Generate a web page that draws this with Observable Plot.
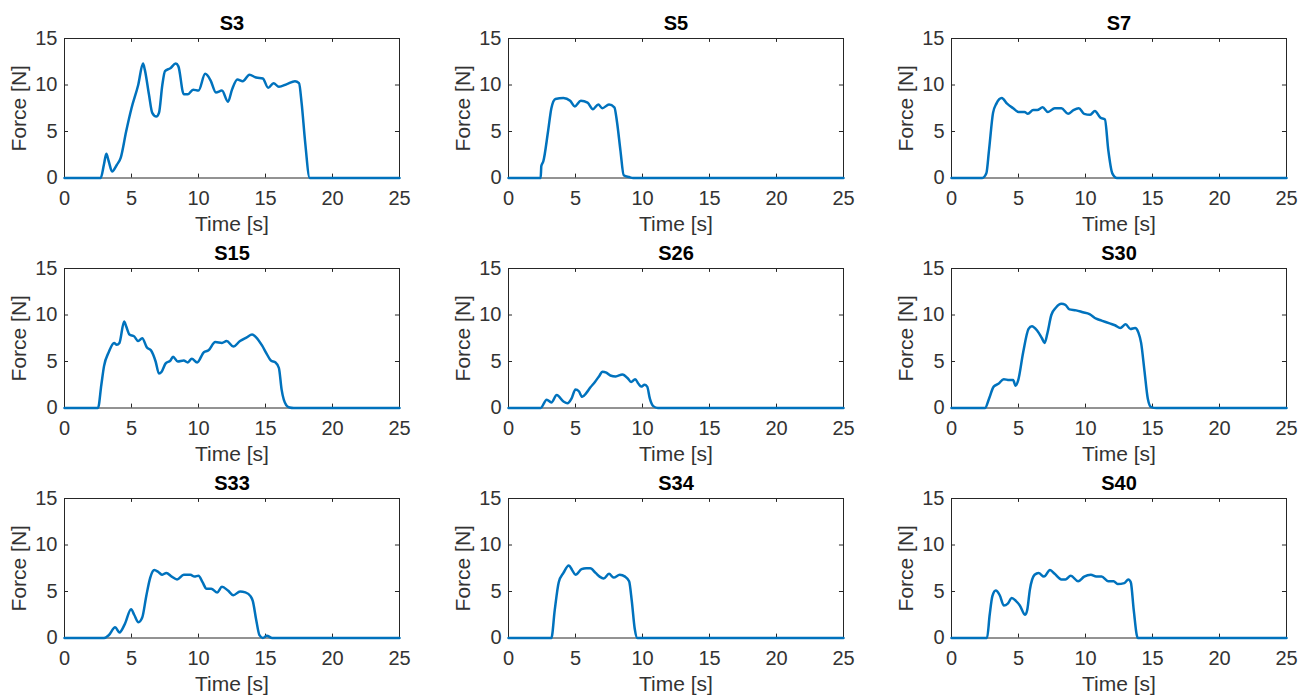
<!DOCTYPE html>
<html>
<head>
<meta charset="utf-8">
<script src="https://cdn.jsdelivr.net/npm/d3@7"></script>
<script src="https://cdn.jsdelivr.net/npm/@observablehq/plot@0.6"></script>
<style>
  html, body { margin: 0; padding: 0; background: #fff; }
  #chart { position: relative; width: 1311px; height: 699px; overflow: hidden; font-family: "Liberation Sans", Arial, Helvetica, sans-serif; }
  .panel { position: absolute; }
</style>
</head>
<body>
<div id="chart"></div>
<script>
// ---- Data ----
const subjects = ["S3", "S5", "S7", "S15", "S26", "S30", "S33", "S34", "S40"];
const xTicks = [0, 5, 10, 15, 20, 25];
const yTicks = [0, 5, 10, 15];
const xLabel = "Time [s]";
const yLabel = "Force [N]";

const s3Time  = [0, 2.7, 2.95, 3.12, 3.3, 3.55, 3.9, 4.2, 4.6, 5.0, 5.5, 5.86, 6.0, 6.3, 6.55, 6.85, 7.05, 7.3, 7.5, 7.9, 8.3, 8.5, 8.9, 9.2, 9.6, 10.0, 10.5, 10.9, 11.3, 11.75, 12.2, 12.5, 12.9, 13.3, 13.8, 14.3, 14.8, 15.2, 15.6, 16.0, 16.6, 17.2, 17.5, 17.7, 17.95, 18.3, 25];
const s3Force = [0, 0, 1.5, 2.6, 1.8, 0.7, 1.4, 2.2, 5.0, 7.5, 10, 12.3, 11.6, 9, 7.0, 6.6, 7.0, 10, 11.5, 11.8, 12.3, 12.0, 9.0, 9.0, 9.5, 9.4, 11.2, 10.5, 9.2, 9.4, 8.2, 9.5, 10.6, 10.4, 11.1, 10.8, 10.7, 9.7, 10.2, 9.8, 10.1, 10.4, 10.2, 8.0, 4.0, 0, 0];

const s5Time  = [0, 2.4, 2.45, 2.6, 2.95, 3.2, 3.5, 4.1, 4.6, 4.95, 5.4, 5.9, 6.3, 6.7, 7.0, 7.5, 7.9, 8.1, 8.35, 8.6, 9.0, 9.3, 25];
const s5Force = [0, 0, 1.3, 1.8, 5.0, 7.5, 8.5, 8.6, 8.3, 7.7, 8.3, 8.1, 7.4, 7.9, 7.5, 7.9, 7.6, 6.0, 3.0, 0.3, 0.1, 0, 0];

const s7Time  = [0, 2.3, 2.6, 2.8, 3.1, 3.35, 3.75, 4.15, 4.6, 5.0, 5.45, 5.7, 6.1, 6.4, 6.8, 7.2, 7.7, 8.2, 8.7, 9.1, 9.5, 9.9, 10.35, 10.7, 11.1, 11.45, 11.7, 12.0, 12.35, 25];
const s7Force = [0, 0, 0.5, 3.0, 7.0, 8.0, 8.6, 8.0, 7.5, 7.1, 7.1, 6.9, 7.3, 7.3, 7.6, 7.1, 7.5, 7.5, 6.9, 7.3, 7.5, 6.9, 6.8, 7.2, 6.5, 6.3, 3.0, 0.5, 0, 0];

const s15Time  = [0, 2.5, 2.75, 2.95, 3.3, 3.7, 3.9, 4.1, 4.45, 4.6, 4.85, 5.2, 5.5, 5.8, 6.15, 6.45, 6.8, 7.05, 7.25, 7.55, 7.9, 8.1, 8.45, 8.9, 9.2, 9.5, 9.9, 10.4, 10.75, 11.25, 11.75, 12.1, 12.6, 13.1, 13.6, 14.0, 14.3, 14.75, 15.1, 15.4, 15.75, 16.0, 16.2, 16.55, 16.8, 17.1, 25];
const s15Force = [0, 0, 2.5, 4.5, 6.0, 7.0, 6.8, 7.0, 9.3, 8.8, 7.9, 7.7, 7.2, 7.5, 6.5, 6.2, 5.0, 3.7, 3.9, 4.8, 5.1, 5.5, 5.0, 5.1, 4.9, 5.3, 4.9, 6.0, 6.2, 7.1, 7.0, 7.2, 6.6, 7.2, 7.6, 7.9, 7.6, 6.7, 5.8, 5.1, 4.9, 4.3, 2.0, 0.3, 0.05, 0, 0];

const s26Time  = [0, 2.4, 2.85, 3.2, 3.6, 4.1, 4.4, 4.7, 5.0, 5.25, 5.5, 5.8, 6.1, 6.45, 6.8, 7.0, 7.3, 7.6, 8.0, 8.5, 8.9, 9.15, 9.45, 9.7, 9.9, 10.15, 10.35, 10.55, 10.8, 11.15, 25];
const s26Force = [0, 0, 0.9, 0.6, 1.4, 0.7, 0.5, 1.0, 2.0, 1.8, 1.2, 1.6, 2.2, 2.8, 3.5, 3.9, 3.8, 3.5, 3.4, 3.6, 3.2, 2.8, 3.1, 2.6, 2.3, 2.5, 2.3, 1.0, 0.2, 0, 0];

const s30Time  = [0, 2.5, 2.8, 3.15, 3.5, 3.9, 4.3, 4.6, 4.78, 4.98, 5.35, 5.75, 6.0, 6.4, 6.75, 6.95, 7.15, 7.45, 7.8, 8.2, 8.5, 8.8, 9.3, 9.8, 10.3, 10.8, 11.2, 11.8, 12.2, 12.6, 13.0, 13.35, 13.7, 13.95, 14.15, 14.4, 14.65, 14.9, 15.3, 25];
const s30Force = [0, 0, 1.0, 2.3, 2.6, 3.1, 3.0, 3.0, 2.4, 3.0, 6.0, 8.5, 8.8, 8.3, 7.5, 7.0, 8.0, 10.0, 10.8, 11.2, 11.1, 10.6, 10.5, 10.3, 10.1, 9.6, 9.4, 9.1, 8.9, 8.6, 9.0, 8.5, 8.6, 8.1, 7.0, 4.0, 1.0, 0.1, 0, 0];

const s33Time  = [0, 2.95, 3.3, 3.78, 4.1, 4.5, 4.97, 5.2, 5.52, 5.8, 6.1, 6.4, 6.7, 7.0, 7.3, 7.6, 8.0, 8.4, 8.9, 9.4, 9.7, 10.0, 10.3, 10.6, 10.95, 11.4, 11.75, 12.2, 12.6, 13.1, 13.5, 13.88, 14.05, 14.3, 14.55, 14.8, 15.1, 15.5, 25];
const s33Force = [0, 0, 0.3, 1.15, 0.6, 1.5, 3.1, 2.5, 1.7, 2.2, 4.5, 6.5, 7.3, 7.1, 6.8, 7.0, 6.6, 6.3, 6.8, 6.8, 6.6, 6.7, 6.0, 5.3, 5.3, 4.9, 5.5, 5.1, 4.6, 5.0, 4.9, 4.5, 4.0, 2.0, 0.3, 0.0, 0.25, 0, 0];

const s34Time  = [0, 3.2, 3.45, 3.75, 4.1, 4.5, 4.75, 5.0, 5.45, 5.8, 6.1, 6.5, 6.8, 7.1, 7.5, 7.85, 8.3, 8.7, 9.0, 9.2, 9.42, 9.62, 25];
const s34Force = [0, 0, 3.0, 6.0, 7.0, 7.8, 7.3, 6.8, 7.4, 7.5, 7.5, 7.0, 6.6, 6.4, 6.9, 6.5, 6.8, 6.6, 6.1, 4.0, 1.0, 0, 0];

const s40Time  = [0, 2.65, 2.85, 3.05, 3.3, 3.6, 3.9, 4.2, 4.5, 4.8, 5.1, 5.5, 5.65, 5.85, 6.2, 6.5, 6.9, 7.35, 7.7, 8.2, 8.5, 8.9, 9.45, 9.9, 10.4, 10.8, 11.2, 11.7, 12.1, 12.4, 12.9, 13.2, 13.38, 13.6, 13.9, 25];
const s40Force = [0, 0, 2.5, 4.5, 5.1, 4.6, 3.5, 3.7, 4.3, 4.0, 3.5, 2.5, 3.0, 5.2, 6.8, 7.0, 6.6, 7.3, 6.9, 6.3, 6.3, 6.7, 6.1, 6.6, 6.8, 6.6, 6.6, 6.1, 6.1, 5.8, 5.9, 6.3, 6.0, 3.0, 0, 0];

const seriesTime  = [s3Time, s5Time, s7Time, s15Time, s26Time, s30Time, s33Time, s34Time, s40Time];
const seriesForce = [s3Force, s5Force, s7Force, s15Force, s26Force, s30Force, s33Force, s34Force, s40Force];

// ---- Layout ----
const lineColor = "#0072BD";
const axisColor = "#262626";
const textColor = "#333333";
const colLeft = [0, 444, 887];
const rowTop = [0, 229.5, 459.5];
const mLeft = 64, mRight = 12, mTop = 38, mBottom = 52;
const innerW = 335, innerH = 139.5;

const chart = document.getElementById("chart");

subjects.forEach((name, i) => {
  const col = i % 3, row = Math.floor(i / 3);
  const data = seriesTime[i].map((t, j) => ({t, f: seriesForce[i][j]}));
  const plot = Plot.plot({
    width: mLeft + innerW + mRight,
    height: mTop + innerH + mBottom,
    marginLeft: mLeft, marginRight: mRight, marginTop: mTop, marginBottom: mBottom,
    style: {fontFamily: '"Liberation Sans", Arial, Helvetica, sans-serif', fontSize: "20px", color: textColor, background: "transparent", overflow: "visible"},
    x: {domain: [0, 25]},
    y: {domain: [0, 15]},
    marks: [
      Plot.frame({stroke: axisColor, strokeWidth: 1}),
      // inward tick marks (MATLAB style) on all four sides
      Plot.ruleX(xTicks, {y1: 0, y2: 0.42, stroke: axisColor, strokeWidth: 1}),
      Plot.ruleX(xTicks, {y1: 15, y2: 14.58, stroke: axisColor, strokeWidth: 1}),
      Plot.ruleY(yTicks, {x1: 0, x2: 0.3, stroke: axisColor, strokeWidth: 1}),
      Plot.ruleY(yTicks, {x1: 25, x2: 24.7, stroke: axisColor, strokeWidth: 1}),
      Plot.line(data, {x: "t", y: "f", stroke: lineColor, strokeWidth: 2.5, curve: "monotone-x"}),
      Plot.axisX({ticks: xTicks, tickSize: 0, tickPadding: 13, label: null, tickFormat: d => String(d)}),
      Plot.axisY({ticks: yTicks, tickSize: 0, tickPadding: 7, label: null, tickFormat: d => String(d)}),
      Plot.text([name], {text: d => d, frameAnchor: "top", lineAnchor: "middle", textAnchor: "middle", dy: -15, fontWeight: "bold", fontSize: 20, fill: "#000"}),
      Plot.text([yLabel], {text: d => d, frameAnchor: "left", textAnchor: "middle", lineAnchor: "middle", dx: -45, rotate: -90, fontSize: 21, fill: textColor}),
      Plot.text([xLabel], {text: d => d, frameAnchor: "bottom", lineAnchor: "middle", textAnchor: "middle", dy: 46, fontSize: 21, fill: textColor})
    ]
  });
  const div = document.createElement("div");
  div.className = "panel";
  div.style.left = colLeft[col] + "px";
  div.style.top = rowTop[row] + "px";
  div.appendChild(plot);
  chart.appendChild(div);
});
</script>
</body>
</html>
